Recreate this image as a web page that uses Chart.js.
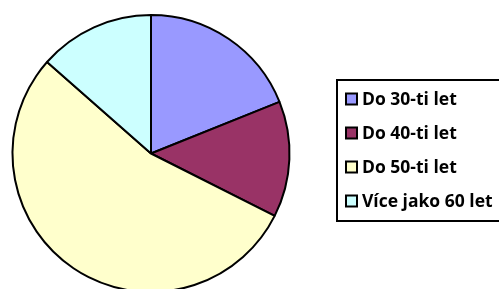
<!DOCTYPE html>
<html>
<head>
<meta charset="utf-8">
<script src="https://cdn.jsdelivr.net/npm/chart.js@4"></script>
<style>
  body { margin: 0; background: #fff; }
  #wrap { width: 499px; height: 289px; overflow: hidden; }
</style>
</head>
<body>
<div id="wrap"><canvas id="graf" width="499" height="300"></canvas></div>
<script>
  // data
  var kategorie = ['Do 30-ti let', 'Do 40-ti let', 'Do 50-ti let', 'Více jako 60 let'];
  var hodnoty = [7, 5, 20, 5];
  var barvy = ['#9999FF', '#993366', '#FFFFCC', '#CCFFFF'];

  // legenda s rámečkem vpravo
  var legendaPlugin = {
    id: 'legenda',
    afterDraw: function (chart) {
      var c = chart.ctx;
      c.save();
      c.lineWidth = 2;
      c.strokeStyle = '#000';
      c.strokeRect(337, 80, 200, 141);
      c.font = 'bold 17.5px "Open Sans"';
      c.textBaseline = 'middle';
      var labels = chart.data.labels;
      var colors = chart.data.datasets[0].backgroundColor;
      for (var i = 0; i < labels.length; i++) {
        var y = 99 + i * 34;
        c.fillStyle = colors[i];
        c.fillRect(346, y - 5.5, 11, 11);
        c.lineWidth = 2;
        c.strokeRect(346, y - 5.5, 11, 11);
        c.fillStyle = '#000';
        c.fillText(labels[i], 362, y + 1);
      }
      c.restore();
    }
  };

  var ctx = document.getElementById('graf').getContext('2d');
  var graf = new Chart(ctx, {
    type: 'pie',
    data: {
      labels: kategorie,
      datasets: [{
        data: hodnoty,
        backgroundColor: barvy,
        borderColor: '#000',
        borderWidth: 2
      }]
    },
    options: {
      responsive: false,
      animation: false,
      layout: { padding: { left: 11, top: 14, right: 208, bottom: 7 } },
      plugins: {
        legend: { display: false },
        tooltip: { enabled: false }
      }
    },
    plugins: [legendaPlugin]
  });
</script>
</body>
</html>
